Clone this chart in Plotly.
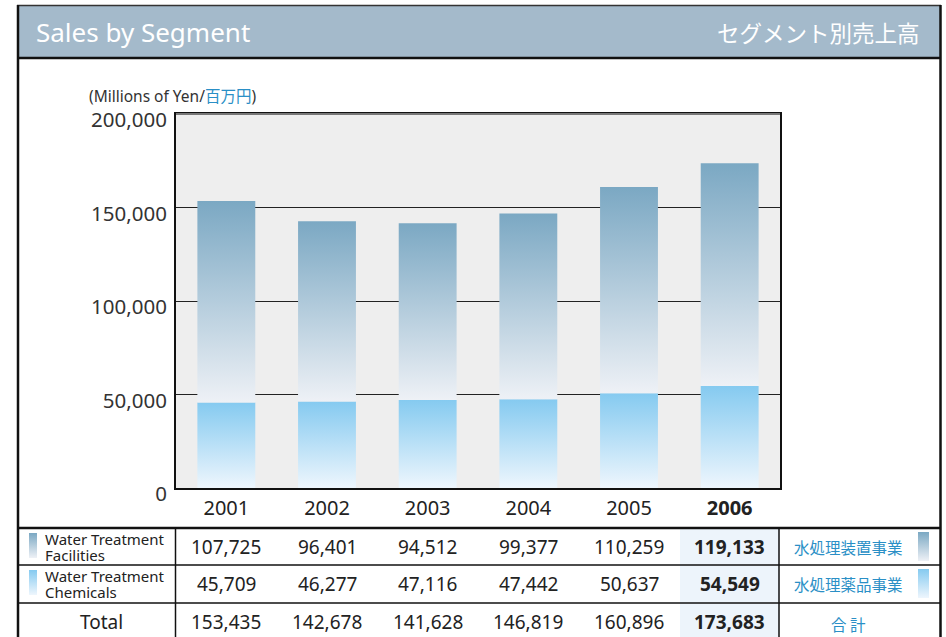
import plotly.graph_objects as go

W, H = 946, 637

years = ["2001", "2002", "2003", "2004", "2005", "2006"]
facilities = [107725, 96401, 94512, 99377, 110259, 119133]
chemicals = [45709, 46277, 47116, 47442, 50637, 54549]
totals = [153435, 142678, 141628, 146819, 160896, 173683]
labels_en = [["Water Treatment", "Facilities"], ["Water Treatment", "Chemicals"], ["Total"]]
labels_jp = ["水処理装置事業", "水処理薬品事業", "合 計"]

FAC_SCALE = [[0, "#eef1f6"], [1, "#7ba8c3"]]
CHEM_SCALE = [[0, "#eef6fd"], [1, "#85caf0"]]
BAR_W = 0.575
FONT = "Noto Sans, Open Sans, sans-serif"
JP_FONT = "Noto Sans CJK JP, sans-serif"
BLUE_TXT = "#2a8fc6"


def px(x):
    return x / W


def py(y):
    return 1 - y / H


fig = go.Figure()

# stacked bars, drawn as filled polygons so they can carry a vertical gradient
for i in range(len(years)):
    segs = [
        (0, chemicals[i], CHEM_SCALE),
        (chemicals[i], chemicals[i] + facilities[i], FAC_SCALE),
    ]
    for lo, hi, scale in segs:
        x0, x1 = i - BAR_W / 2, i + BAR_W / 2
        fig.add_trace(
            go.Scatter(
                x=[x0, x1, x1, x0, x0],
                y=[lo, lo, hi, hi, lo],
                fill="toself",
                mode="lines",
                line=dict(width=0, color="rgba(0,0,0,0)"),
                fillgradient=dict(type="vertical", colorscale=scale, start=lo, stop=hi),
                hoverinfo="skip",
                showlegend=False,
            )
        )

# little gradient swatches in the table (pixel overlay axes)
swatches = [
    (29, 37, 533, 558, FAC_SCALE),
    (29, 37, 570, 595, CHEM_SCALE),
    (918, 929, 532, 561, FAC_SCALE),
    (918, 929, 569, 598, CHEM_SCALE),
]
for x0, x1, ytop, ybot, scale in swatches:
    lo, hi = H - ybot, H - ytop
    fig.add_trace(
        go.Scatter(
            x=[x0, x1, x1, x0, x0],
            y=[lo, lo, hi, hi, lo],
            xaxis="x2",
            yaxis="y2",
            fill="toself",
            mode="lines",
            line=dict(width=0, color="rgba(0,0,0,0)"),
            fillgradient=dict(type="vertical", colorscale=scale, start=lo, stop=hi),
            hoverinfo="skip",
            showlegend=False,
        )
    )

ticktext = [f"<b>{y}</b>" if y == years[-1] else y for y in years]

fig.update_layout(
    width=W,
    height=H,
    margin=dict(l=0, r=0, t=0, b=0, autoexpand=False),
    paper_bgcolor="white",
    plot_bgcolor="rgba(0,0,0,0)",
    font=dict(family=FONT, color="#222"),
    xaxis=dict(
        domain=[px(176), px(780)],
        range=[-0.5, len(years) - 0.5],
        tickvals=list(range(len(years))),
        ticktext=ticktext,
        tickfont=dict(size=20, color="#222"),
        showgrid=False,
        zeroline=False,
        showline=True,
        linecolor="#111",
        linewidth=2,
        mirror=True,
        ticks="outside",
        ticklen=1,
        tickcolor="rgba(0,0,0,0)",
        automargin=False,
        fixedrange=True,
    ),
    yaxis=dict(
        domain=[py(488), py(114)],
        range=[0, 200000],
        dtick=50000,
        tickformat=",",
        tickfont=dict(size=20.5, color="#333"),
        showgrid=True,
        gridcolor="#222",
        gridwidth=1,
        zeroline=False,
        showline=True,
        linecolor="#111",
        linewidth=2,
        mirror=True,
        ticks="outside",
        ticklen=3,
        tickcolor="rgba(0,0,0,0)",
        ticklabelshift=6,
        automargin=False,
        fixedrange=True,
    ),
    xaxis2=dict(domain=[0, 1], range=[0, W], visible=False, anchor="y2",
                automargin=False, fixedrange=True),
    yaxis2=dict(domain=[0, 1], range=[0, H], visible=False, anchor="x2",
                automargin=False, fixedrange=True),
)

shapes = []


def hline(y, x0, x1, w=1.5, color="#111"):
    shapes.append(dict(type="line", xref="paper", yref="paper", x0=px(x0), x1=px(x1),
                       y0=py(y), y1=py(y), line=dict(color=color, width=w)))


def vline(x, y0, y1, w=1.5, color="#111"):
    shapes.append(dict(type="line", xref="paper", yref="paper", x0=px(x), x1=px(x),
                       y0=py(y0), y1=py(y1), line=dict(color=color, width=w)))


# grey plot area background
shapes.append(dict(type="rect", xref="x domain", yref="y domain", x0=0, x1=1, y0=0, y1=1,
                   fillcolor="#eeeeee", line=dict(width=0), layer="below"))
# header band
shapes.append(dict(type="rect", xref="paper", yref="paper", x0=px(18), x1=px(940),
                   y0=py(57), y1=py(6), fillcolor="#a4bacb", line=dict(width=0), layer="below"))
# highlight of the last year column
shapes.append(dict(type="rect", xref="paper", yref="paper", x0=px(680), x1=px(779),
                   y0=py(H), y1=py(529), fillcolor="#edf4fb", line=dict(width=0), layer="below"))
hline(5.5, 17, 941, w=1.5, color="#333")
hline(58, 17, 941, w=2.5)
hline(528, 17, 941, w=2.5)
hline(565, 17, 941, w=1.5)
hline(603, 17, 941, w=1.5)
hline(114, 176, 780, w=2, color="#777")  # top edge of plot frame is greyer
vline(18, 5, H, w=2.5)
vline(940.5, 5, H, w=2.5)
vline(175.5, 528, H, w=1.5)
vline(779, 528, H, w=1.5)
fig.update_layout(shapes=shapes)

ann = []


def text(x, y, s, size, color="#222", xanchor="center", family=FONT, xref="paper"):
    ann.append(dict(x=px(x) if xref == "paper" else x, y=py(y), xref=xref, yref="paper",
                    text=s, showarrow=False, xanchor=xanchor, yanchor="middle",
                    font=dict(size=size, color=color, family=family)))


text(34, 32, "Sales by Segment", 26, color="white", xanchor="left")
text(922, 32, "セグメント別売上高", 22.5, color="white", xanchor="right", family=JP_FONT)
text(87, 96, f"(Millions of Yen/<span style='color:{BLUE_TXT};font-family:Noto Sans CJK JP'>百万円</span>)",
     15.5, color="#333", xanchor="left")

row_y = [547, 584, 622]
# left labels
for r, lines in enumerate(labels_en[:2]):
    text(43, row_y[r] - 8, lines[0], 15, xanchor="left")
    text(43, row_y[r] + 8, lines[1], 15, xanchor="left")
text(101, row_y[2], labels_en[2][0], 19)

# numbers
for r, vals in enumerate([facilities, chemicals, totals]):
    for i, v in enumerate(vals):
        s = f"{v:,}"
        if i == len(vals) - 1:
            s = f"<b>{s}</b>"
        text(i, row_y[r], s, 19, xref="x")

# japanese labels
for r, s in enumerate(labels_jp):
    text(848, row_y[r] + (2 if r == 2 else 0), s, 15.5, color=BLUE_TXT, family=JP_FONT)

fig.update_layout(annotations=ann)

fig.write_html("out.html", config={"displayModeBar": False},
               post_script="document.body.style.margin='0px';")
